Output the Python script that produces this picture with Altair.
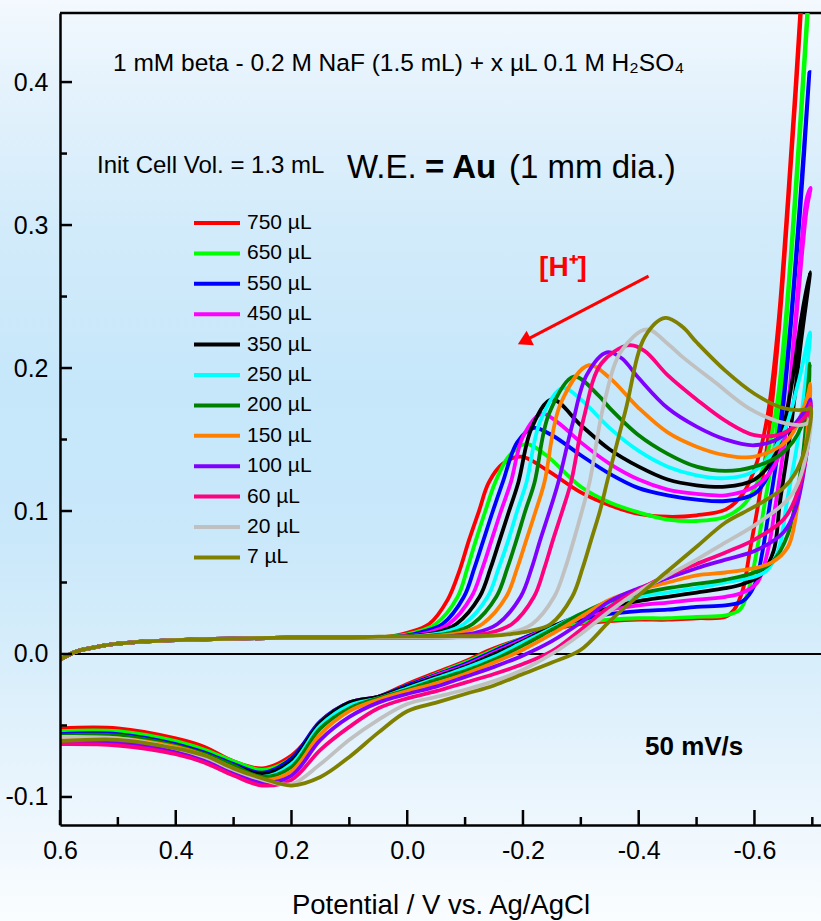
import altair as alt
import pandas as pd

FONT = "Liberation Sans, Arial, sans-serif"

labels = ["750 µL", "650 µL", "550 µL", "450 µL", "350 µL", "250 µL",
          "200 µL", "150 µL", "100 µL", "60 µL", "20 µL", "7 µL"]
colors = ["#ff0000", "#00ff00", "#0000ff", "#ff00ff", "#000000", "#00ffff",
          "#008000", "#ff8000", "#8000ff", "#ff0080", "#c0c0c0", "#808000"]

# common start of the forward scan (0.6 V -> 0.1 V)
base_fwd = [(0.6, -0.004), (0.57, 0.002), (0.53, 0.0055), (0.5, 0.0072), (0.45, 0.0088),
            (0.4, 0.0097), (0.3, 0.0108), (0.2, 0.0114), (0.1, 0.0115)]

fwd_750 = [(0.05, 0.0116), (0.02, 0.0128), (0.0, 0.0148), (-0.038, 0.021), (-0.07, 0.038), (-0.09, 0.058),
           (-0.107, 0.08), (-0.124, 0.10), (-0.141, 0.12), (-0.165, 0.133), (-0.197, 0.138), (-0.24, 0.129),
           (-0.3, 0.113), (-0.35, 0.104), (-0.4, 0.098), (-0.45, 0.096), (-0.5, 0.097), (-0.55, 0.101),
           (-0.58, 0.112), (-0.605, 0.135), (-0.624, 0.17), (-0.641, 0.23), (-0.658, 0.32), (-0.679, 0.448),
           (-0.695, 0.56)]
ret_750 = [(-0.679, 0.44), (-0.658, 0.3125), (-0.641, 0.22), (-0.624, 0.152), (-0.607, 0.106), (-0.592, 0.072),
           (-0.58, 0.045), (-0.565, 0.031), (-0.55, 0.026), (-0.5, 0.025), (-0.45, 0.024), (-0.4, 0.024),
           (-0.35, 0.023), (-0.3, 0.021), (-0.25, 0.017), (-0.2, 0.011), (-0.15, 0.004), (-0.1, -0.005),
           (-0.05, -0.013), (0.0, -0.021), (0.05, -0.030), (0.1, -0.035), (0.15, -0.050), (0.2, -0.071),
           (0.25, -0.080), (0.3, -0.075), (0.35, -0.065), (0.4, -0.059), (0.5, -0.052), (0.6, -0.052)]

fwd_650 = [(0.05, 0.0116), (0.01, 0.013), (-0.01, 0.0148), (-0.049, 0.021), (-0.087, 0.04), (-0.104, 0.06),
           (-0.119, 0.08), (-0.135, 0.10), (-0.152, 0.12), (-0.175, 0.138), (-0.205, 0.147), (-0.24, 0.139),
           (-0.3, 0.117), (-0.35, 0.106), (-0.4, 0.099), (-0.45, 0.094), (-0.5, 0.093), (-0.55, 0.096),
           (-0.585, 0.106), (-0.615, 0.13), (-0.637, 0.17), (-0.653, 0.23), (-0.67, 0.32), (-0.691, 0.448),
           (-0.70, 0.51)]
ret_650 = [(-0.691, 0.44), (-0.67, 0.312), (-0.653, 0.22), (-0.637, 0.152), (-0.618, 0.106), (-0.604, 0.072),
           (-0.59, 0.045), (-0.575, 0.031), (-0.55, 0.027), (-0.5, 0.026), (-0.45, 0.025), (-0.4, 0.025),
           (-0.35, 0.024), (-0.3, 0.022), (-0.25, 0.018), (-0.2, 0.011), (-0.15, 0.003), (-0.1, -0.006),
           (-0.05, -0.014), (0.0, -0.022), (0.05, -0.030), (0.1, -0.035), (0.15, -0.050), (0.2, -0.073),
           (0.25, -0.081), (0.3, -0.075), (0.35, -0.067), (0.4, -0.061), (0.5, -0.054), (0.6, -0.054)]

fwd_550 = [(0.04, 0.0116), (0.0, 0.013), (-0.02, 0.0148), (-0.061, 0.021), (-0.098, 0.04), (-0.116, 0.06),
           (-0.132, 0.08), (-0.148, 0.10), (-0.165, 0.12), (-0.19, 0.148), (-0.218, 0.158), (-0.25, 0.153),
           (-0.3, 0.139), (-0.35, 0.126), (-0.4, 0.116), (-0.45, 0.111), (-0.5, 0.108), (-0.55, 0.107),
           (-0.6, 0.112), (-0.625, 0.126), (-0.644, 0.16), (-0.661, 0.225), (-0.679, 0.318), (-0.695, 0.407)]
ret_550 = [(-0.679, 0.31), (-0.661, 0.22), (-0.644, 0.152), (-0.627, 0.106), (-0.614, 0.072), (-0.6, 0.048),
           (-0.58, 0.037), (-0.55, 0.034), (-0.5, 0.033), (-0.45, 0.031), (-0.4, 0.030), (-0.35, 0.028),
           (-0.3, 0.024), (-0.25, 0.019), (-0.2, 0.011), (-0.15, 0.002), (-0.1, -0.007), (-0.05, -0.0145),
           (0.0, -0.022), (0.05, -0.030), (0.1, -0.034), (0.15, -0.047), (0.2, -0.073), (0.25, -0.083),
           (0.3, -0.077), (0.35, -0.069), (0.4, -0.063), (0.5, -0.056), (0.6, -0.056)]

fwd_450 = [(0.03, 0.0116), (-0.01, 0.013), (-0.035, 0.0148), (-0.072, 0.021), (-0.111, 0.04), (-0.13, 0.06),
           (-0.146, 0.08), (-0.162, 0.10), (-0.179, 0.12), (-0.2, 0.152), (-0.232, 0.168), (-0.26, 0.162),
           (-0.3, 0.148), (-0.35, 0.133), (-0.4, 0.122), (-0.45, 0.115), (-0.5, 0.112), (-0.55, 0.111),
           (-0.6, 0.117), (-0.635, 0.132), (-0.655, 0.165), (-0.669, 0.225), (-0.69, 0.318), (-0.697, 0.326)]
ret_450 = [(-0.69, 0.31), (-0.669, 0.22), (-0.653, 0.152), (-0.637, 0.106), (-0.623, 0.072), (-0.605, 0.05),
           (-0.58, 0.043), (-0.55, 0.04), (-0.5, 0.038), (-0.45, 0.036), (-0.4, 0.034), (-0.35, 0.031),
           (-0.3, 0.026), (-0.25, 0.019), (-0.2, 0.010), (-0.15, 0.001), (-0.1, -0.008), (-0.05, -0.015),
           (0.0, -0.023), (0.05, -0.030), (0.1, -0.034), (0.15, -0.048), (0.2, -0.076), (0.25, -0.089),
           (0.3, -0.083), (0.35, -0.074), (0.4, -0.068), (0.5, -0.063), (0.6, -0.062)]

fwd_350 = [(0.02, 0.0116), (-0.02, 0.013), (-0.048, 0.0148), (-0.085, 0.021), (-0.125, 0.04), (-0.144, 0.06),
           (-0.16, 0.08), (-0.176, 0.10), (-0.192, 0.12), (-0.215, 0.158), (-0.25, 0.178), (-0.3, 0.16),
           (-0.35, 0.143), (-0.4, 0.131), (-0.45, 0.122), (-0.5, 0.118), (-0.55, 0.117), (-0.6, 0.122),
           (-0.63, 0.135), (-0.648, 0.155), (-0.665, 0.19), (-0.681, 0.235), (-0.696, 0.267)]
ret_350 = [(-0.681, 0.22), (-0.661, 0.152), (-0.644, 0.106), (-0.633, 0.072), (-0.61, 0.055), (-0.58, 0.049),
           (-0.55, 0.046), (-0.5, 0.043), (-0.45, 0.040), (-0.4, 0.037), (-0.35, 0.033), (-0.3, 0.027),
           (-0.25, 0.019), (-0.2, 0.009), (-0.15, 0.0), (-0.1, -0.009), (-0.05, -0.016), (0.0, -0.023),
           (0.05, -0.030), (0.1, -0.034), (0.15, -0.048), (0.2, -0.075), (0.25, -0.084), (0.3, -0.078),
           (0.35, -0.070), (0.4, -0.064), (0.5, -0.057), (0.6, -0.057)]

fwd_250 = [(0.01, 0.0116), (-0.03, 0.013), (-0.06, 0.0148), (-0.098, 0.021), (-0.139, 0.04), (-0.158, 0.06),
           (-0.175, 0.08), (-0.19, 0.10), (-0.206, 0.12), (-0.23, 0.163), (-0.268, 0.186), (-0.3, 0.178),
           (-0.35, 0.158), (-0.4, 0.142), (-0.45, 0.131), (-0.5, 0.125), (-0.55, 0.123), (-0.6, 0.128),
           (-0.647, 0.152), (-0.676, 0.19), (-0.696, 0.225)]
ret_250 = [(-0.688, 0.19), (-0.676, 0.152), (-0.656, 0.106), (-0.641, 0.072), (-0.62, 0.058), (-0.6, 0.054),
           (-0.55, 0.050), (-0.5, 0.046), (-0.45, 0.043), (-0.4, 0.040), (-0.35, 0.035), (-0.3, 0.028),
           (-0.25, 0.018), (-0.2, 0.008), (-0.15, -0.002), (-0.1, -0.010), (-0.05, -0.017), (0.0, -0.024),
           (0.05, -0.031), (0.1, -0.036), (0.15, -0.050), (0.2, -0.077), (0.25, -0.086), (0.3, -0.079),
           (0.35, -0.071), (0.4, -0.065), (0.5, -0.058), (0.6, -0.058)]

fwd_200 = [(0.0, 0.0116), (-0.045, 0.013), (-0.075, 0.0148), (-0.113, 0.021), (-0.154, 0.04), (-0.173, 0.06),
           (-0.189, 0.08), (-0.204, 0.10), (-0.22, 0.12), (-0.245, 0.168), (-0.288, 0.194), (-0.33, 0.181),
           (-0.35, 0.172), (-0.4, 0.153), (-0.45, 0.14), (-0.5, 0.131), (-0.55, 0.128), (-0.6, 0.131),
           (-0.647, 0.14), (-0.681, 0.159), (-0.696, 0.203)]
ret_200 = [(-0.69, 0.165), (-0.681, 0.131), (-0.658, 0.084), (-0.63, 0.064), (-0.6, 0.057), (-0.55, 0.052),
           (-0.5, 0.049), (-0.45, 0.046), (-0.4, 0.042), (-0.35, 0.037), (-0.3, 0.028), (-0.25, 0.017),
           (-0.2, 0.006), (-0.15, -0.004), (-0.1, -0.012), (-0.05, -0.018), (0.0, -0.025), (0.05, -0.031),
           (0.1, -0.038), (0.15, -0.052), (0.2, -0.079), (0.25, -0.086), (0.3, -0.078), (0.35, -0.070),
           (0.4, -0.064), (0.5, -0.057), (0.6, -0.057)]

fwd_150 = [(-0.02, 0.0116), (-0.06, 0.013), (-0.092, 0.0148), (-0.13, 0.021), (-0.171, 0.04), (-0.19, 0.06),
           (-0.206, 0.08), (-0.222, 0.10), (-0.237, 0.12), (-0.265, 0.175), (-0.314, 0.202), (-0.35, 0.193),
           (-0.4, 0.172), (-0.45, 0.155), (-0.5, 0.145), (-0.55, 0.139), (-0.6, 0.138), (-0.658, 0.15),
           (-0.69, 0.178), (-0.697, 0.189)]
ret_150 = [(-0.69, 0.15), (-0.676, 0.108), (-0.658, 0.075), (-0.63, 0.064), (-0.6, 0.060), (-0.55, 0.057),
           (-0.5, 0.055), (-0.45, 0.050), (-0.4, 0.045), (-0.35, 0.038), (-0.3, 0.026), (-0.25, 0.014),
           (-0.2, 0.003), (-0.15, -0.006), (-0.1, -0.014), (-0.05, -0.0205), (0.0, -0.026), (0.05, -0.032),
           (0.1, -0.040), (0.15, -0.056), (0.2, -0.082), (0.25, -0.088), (0.3, -0.080), (0.35, -0.071),
           (0.4, -0.065), (0.5, -0.059), (0.6, -0.059)]

fwd_100 = [(-0.05, 0.0116), (-0.085, 0.013), (-0.118, 0.0148), (-0.156, 0.021), (-0.196, 0.04), (-0.215, 0.06),
           (-0.23, 0.08), (-0.246, 0.10), (-0.261, 0.12), (-0.285, 0.16), (-0.31, 0.195), (-0.345, 0.211),
           (-0.37, 0.207), (-0.4, 0.193), (-0.45, 0.172), (-0.5, 0.159), (-0.55, 0.15), (-0.6, 0.146),
           (-0.647, 0.152), (-0.69, 0.172), (-0.697, 0.178)]
ret_100 = [(-0.69, 0.14), (-0.67, 0.10), (-0.65, 0.085), (-0.6, 0.072), (-0.55, 0.066), (-0.5, 0.060),
           (-0.45, 0.053), (-0.4, 0.046), (-0.35, 0.037), (-0.3, 0.022), (-0.25, 0.009), (-0.2, -0.001),
           (-0.15, -0.009), (-0.1, -0.016), (-0.05, -0.0228), (0.0, -0.028), (0.05, -0.034), (0.1, -0.044),
           (0.15, -0.060), (0.2, -0.085), (0.25, -0.090), (0.3, -0.083), (0.35, -0.074), (0.4, -0.068),
           (0.5, -0.062), (0.6, -0.061)]

fwd_60 = [(-0.08, 0.0116), (-0.11, 0.013), (-0.143, 0.0148), (-0.181, 0.021), (-0.219, 0.04), (-0.237, 0.06),
          (-0.252, 0.08), (-0.268, 0.10), (-0.283, 0.12), (-0.305, 0.165), (-0.335, 0.203), (-0.383, 0.216),
          (-0.41, 0.212), (-0.45, 0.195), (-0.5, 0.178), (-0.55, 0.163), (-0.6, 0.153), (-0.647, 0.154),
          (-0.69, 0.167), (-0.697, 0.175)]
ret_60 = [(-0.69, 0.14), (-0.67, 0.108), (-0.65, 0.094), (-0.6, 0.080), (-0.55, 0.071), (-0.5, 0.063),
          (-0.45, 0.055), (-0.4, 0.045), (-0.35, 0.033), (-0.3, 0.017), (-0.25, 0.002), (-0.2, -0.007),
          (-0.15, -0.014), (-0.1, -0.020), (-0.05, -0.026), (0.0, -0.031), (0.05, -0.038), (0.1, -0.051),
          (0.15, -0.067), (0.2, -0.088), (0.25, -0.092), (0.3, -0.085), (0.35, -0.076), (0.4, -0.070),
          (0.5, -0.064), (0.6, -0.063)]

fwd_20 = [(-0.12, 0.0118), (-0.15, 0.013), (-0.178, 0.0148), (-0.216, 0.021), (-0.254, 0.04), (-0.273, 0.06),
          (-0.288, 0.08), (-0.302, 0.10), (-0.315, 0.12), (-0.34, 0.175), (-0.37, 0.212), (-0.414, 0.227),
          (-0.45, 0.217), (-0.475, 0.208), (-0.532, 0.19), (-0.59, 0.172), (-0.647, 0.162), (-0.69, 0.161),
          (-0.697, 0.165)]
ret_20 = [(-0.69, 0.14), (-0.67, 0.115), (-0.65, 0.105), (-0.6, 0.09), (-0.55, 0.078), (-0.5, 0.066),
          (-0.45, 0.055), (-0.4, 0.044), (-0.35, 0.030), (-0.3, 0.014), (-0.25, 0.0), (-0.2, -0.011),
          (-0.15, -0.019), (-0.1, -0.025), (-0.05, -0.030), (0.0, -0.035), (0.05, -0.046), (0.1, -0.060),
          (0.15, -0.077), (0.2, -0.091), (0.25, -0.088), (0.3, -0.081), (0.35, -0.072), (0.4, -0.066),
          (0.5, -0.059), (0.6, -0.058)]

fwd_7 = [(0.05, 0.0122), (-0.05, 0.0124), (-0.15, 0.0128), (-0.18, 0.014), (-0.21, 0.016), (-0.248, 0.021),
         (-0.285, 0.04), (-0.303, 0.06), (-0.318, 0.08), (-0.333, 0.10), (-0.347, 0.123), (-0.377, 0.17),
         (-0.411, 0.222), (-0.446, 0.235), (-0.475, 0.229), (-0.5, 0.218), (-0.55, 0.198), (-0.6, 0.182),
         (-0.65, 0.172), (-0.69, 0.171), (-0.697, 0.172)]
ret_7 = [(-0.687, 0.143), (-0.67, 0.126), (-0.65, 0.116), (-0.6, 0.103), (-0.55, 0.092), (-0.5, 0.075),
         (-0.45, 0.058), (-0.4, 0.041), (-0.35, 0.023), (-0.3, 0.003), (-0.25, -0.006), (-0.2, -0.014),
         (-0.15, -0.022), (-0.1, -0.028), (-0.05, -0.034), (0.0, -0.040), (0.05, -0.055), (0.1, -0.072),
         (0.15, -0.086), (0.2, -0.092), (0.25, -0.087), (0.3, -0.080), (0.35, -0.071), (0.4, -0.066),
         (0.5, -0.060), (0.6, -0.061)]

forward_scans = [fwd_750, fwd_650, fwd_550, fwd_450, fwd_350, fwd_250,
                 fwd_200, fwd_150, fwd_100, fwd_60, fwd_20, fwd_7]
return_scans = [ret_750, ret_650, ret_550, ret_450, ret_350, ret_250,
                ret_200, ret_150, ret_100, ret_60, ret_20, ret_7]

x_major = [0.6, 0.4, 0.2, 0.0, -0.2, -0.4, -0.6]
x_minor = [0.5, 0.3, 0.1, -0.1, -0.3, -0.5, -0.7]
y_major = [-0.1, 0.0, 0.1, 0.2, 0.3, 0.4]
y_minor = [-0.05, 0.05, 0.15, 0.25, 0.35]

arrow_x = [-0.417, -0.205]
arrow_y = [0.2643, 0.2195]
arrow_tip_x = [-0.2055]
arrow_tip_y = [0.2195]

W, H = 761, 812

LABEL_EXPR = "datum.value < 0 ? '-' + format(-datum.value, '.1f') : format(datum.value, '.1f')"

xaxis = alt.Axis(values=x_major, ticks=False, grid=False, domainColor="black", domainWidth=2.5,
                 labelFont=FONT, labelFontSize=25, labelColor="black", labelPadding=13,
                 labelFlush=False, labelOverlap=False, labelExpr=LABEL_EXPR,
                 title="Potential / V vs. Ag/AgCl", titleFont=FONT, titleFontSize=27.5,
                 titleFontWeight="normal", titleColor="black", titleBaseline="alphabetic", titleY=88,
                 zindex=1)
yaxis = alt.Axis(values=y_major, ticks=False, grid=False, domainColor="black", domainWidth=2.5,
                 labelFont=FONT, labelFontSize=25, labelColor="black", labelPadding=12,
                 labelFlush=False, labelOverlap=False, labelExpr=LABEL_EXPR,
                 title=None, zindex=1)

X = alt.X("x:Q", scale=alt.Scale(domain=[-0.715, 0.6], reverse=True, nice=False, zero=False), axis=xaxis)
Y = alt.Y("y:Q", scale=alt.Scale(domain=[-0.1196, 0.4483], nice=False, zero=False), axis=yaxis)
C = alt.Color("series:N", scale=alt.Scale(domain=labels, range=colors),
              legend=alt.Legend(orient="none", legendX=132, legendY=198, title=None,
                                symbolType="stroke", symbolSize=2116, symbolStrokeWidth=4,
                                labelFont=FONT, labelFontSize=21, labelColor="black",
                                labelOffset=5, rowPadding=6.4, clipHeight=24, padding=0))

layers = []

bg = alt.Chart(pd.DataFrame({"k": [0]})).mark_rect(
    color=alt.Gradient(gradient="linear", x1=0, x2=0, y1=0, y2=1,
                       stops=[alt.GradientStop(color="#f3f9fe", offset=0),
                              alt.GradientStop(color="#e4f2fc", offset=0.1),
                              alt.GradientStop(color="#d2ebfa", offset=0.25),
                              alt.GradientStop(color="#c6e7fa", offset=0.42),
                              alt.GradientStop(color="#c9e8fa", offset=0.58),
                              alt.GradientStop(color="#d8eefb", offset=0.72),
                              alt.GradientStop(color="#eaf5fd", offset=0.86),
                              alt.GradientStop(color="#fafdff", offset=1)])
).encode(x=alt.value(-60), x2=alt.value(W), y=alt.value(-13), y2=alt.value(908))
layers.append(bg)

top_border = alt.Chart(pd.DataFrame({"k": [0]})).mark_rule(color="black", strokeWidth=2.5).encode(
    x=alt.value(0), x2=alt.value(W), y=alt.value(0))
layers.append(top_border)

zero_line = alt.Chart(pd.DataFrame({"y": [0.0]})).mark_rule(color="black", strokeWidth=2).encode(y=Y)
layers.append(zero_line)

for lab, f, r in zip(labels, forward_scans, return_scans):
    pts = base_fwd + f + r
    df = pd.DataFrame({"x": [p[0] for p in pts], "y": [p[1] for p in pts],
                       "i": list(range(len(pts))), "series": [lab] * len(pts)})
    layers.append(alt.Chart(df).mark_line(interpolate="catmull-rom", strokeWidth=3.8, clip=True).encode(
        x=X, y=Y, color=C, order="i:Q"))

# ticks pointing inward
layers.append(alt.Chart(pd.DataFrame({"x": x_major})).mark_rule(color="black", strokeWidth=2.5).encode(
    x=X, y=alt.value(H), y2=alt.value(H - 15)))
layers.append(alt.Chart(pd.DataFrame({"x": x_minor})).mark_rule(color="black", strokeWidth=2.5).encode(
    x=X, y=alt.value(H), y2=alt.value(H - 8)))
layers.append(alt.Chart(pd.DataFrame({"y": y_major})).mark_rule(color="black", strokeWidth=2.5).encode(
    y=Y, x=alt.value(0), x2=alt.value(12)))
layers.append(alt.Chart(pd.DataFrame({"y": y_minor})).mark_rule(color="black", strokeWidth=2.5).encode(
    y=Y, x=alt.value(0), x2=alt.value(7)))

# arrow
layers.append(alt.Chart(pd.DataFrame({"x": arrow_x, "y": arrow_y, "i": [0, 1]})).mark_line(
    color="#ff0000", strokeWidth=3).encode(x=X, y=Y, order="i:Q"))
layers.append(alt.Chart(pd.DataFrame({"x": arrow_tip_x, "y": arrow_tip_y})).mark_point(
    shape="triangle", filled=True, color="#ff0000", size=260, angle=243, opacity=1).encode(x=X, y=Y))


def text_layer(t, x, y, size, weight="normal", color="black", align="left"):
    return alt.Chart(pd.DataFrame({"t": [t]})).mark_text(
        align=align, baseline="alphabetic", font=FONT, fontSize=size, fontWeight=weight, color=color
    ).encode(x=alt.value(x), y=alt.value(y), text="t:N")


layers.append(text_layer("1 mM beta - 0.2 M NaF (1.5 mL) + x µL  0.1 M H₂SO₄", 53, 58, 24.5))
layers.append(text_layer("Init Cell Vol. = 1.3 mL", 37, 160, 24))
layers.append(text_layer("W.E.", 287, 165, 33))
layers.append(text_layer("= Au", 365, 165, 33, weight="bold"))
layers.append(text_layer("(1 mm dia.)", 449, 165, 33))
layers.append(text_layer("[H⁺]", 503, 263, 28, weight="bold", color="#ff0000", align="center"))
layers.append(text_layer("50 mV/s", 585, 742, 26, weight="bold"))

chart = alt.layer(*layers).properties(
    width=W, height=H,
    autosize=alt.AutoSizeParams(type="none"),
    padding={"left": 60, "top": 13, "right": 0, "bottom": 96},
    background="#eef6fc",
).configure_view(stroke=None)

chart.save("out.html", embed_options={"renderer": "svg", "actions": False})
